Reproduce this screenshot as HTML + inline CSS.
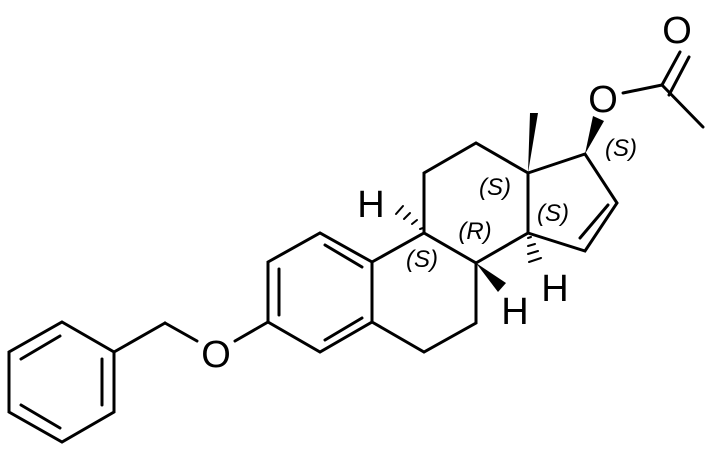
<!DOCTYPE html>
<html><head><style>body{margin:0;background:#fff}svg{display:block}
.a{font-family:"Liberation Sans",Arial,sans-serif;font-size:38px;text-anchor:middle}
.s{font-family:"Liberation Sans",Arial,sans-serif;font-size:24px;font-style:italic;text-anchor:middle}
</style></head><body>
<svg width="713" height="452" viewBox="0 0 713 452" xmlns="http://www.w3.org/2000/svg">
<g stroke="#000" stroke-width="3" fill="none" stroke-linecap="round">
<polygon points="62,322 114,352 114,412 62,442 9,412 9,352"/>
<line x1="102" y1="359" x2="102" y2="405"/>
<line x1="21" y1="359" x2="60" y2="336"/>
<line x1="21" y1="405" x2="60" y2="428"/>
<line x1="114" y1="352" x2="165" y2="323"/>
<line x1="165" y1="323" x2="197" y2="341"/>
<line x1="235" y1="341" x2="268" y2="322"/>
<polygon points="268,262 320,233 372,262 372,322 320,352 268,322"/>
<line x1="279" y1="269" x2="279" y2="315"/>
<line x1="325" y1="245" x2="362" y2="267"/>
<line x1="325" y1="340" x2="362" y2="318"/>
<polyline points="372,262 424,233 476,263 476,323 424,352 372,322"/>
<polyline points="424,233 424,173 476,143 528,173 528,233 476,263"/>
<polyline points="528,173 585,154 617,203 585,251 528,233"/>
<line x1="580" y1="238" x2="608" y2="205"/>
<line x1="623" y1="93" x2="662" y2="85"/>
<line x1="662" y1="85" x2="703" y2="127"/>
<line x1="662" y1="85" x2="680" y2="52"/>
<line x1="669" y1="95" x2="689" y2="57"/>
<line x1="420" y1="229" x2="423" y2="228" stroke-width="2"/>
<line x1="412" y1="224" x2="417" y2="220" stroke-width="2"/>
<line x1="404" y1="219" x2="410" y2="213" stroke-width="2"/>
<line x1="396" y1="214" x2="403" y2="206" stroke-width="2"/>
<line x1="528" y1="238" x2="531" y2="237" stroke-width="2"/>
<line x1="528" y1="246" x2="535" y2="244" stroke-width="2"/>
<line x1="528" y1="254" x2="538" y2="251" stroke-width="2"/>
<line x1="529" y1="262" x2="541" y2="258" stroke-width="2"/>
</g>
<g fill="#000">
<polygon points="528,173 530,113 538,113"/>
<polygon points="585,154 593,116 604,121"/>
<polygon points="476,263 506,283 498,292"/>
</g>
<text class="a" x="216" y="367">O</text>
<text class="a" x="603" y="112">O</text>
<text class="a" x="677" y="43">O</text>
<text class="a" x="371" y="217">H</text>
<text class="a" x="515" y="324">H</text>
<text class="a" x="555" y="301">H</text>
<text class="s" x="495" y="195">(S)</text>
<text class="s" x="553" y="221">(S)</text>
<text class="s" x="475" y="239">(R)</text>
<text class="s" x="422" y="267">(S)</text>
<text class="s" x="621" y="156">(S)</text>
</svg>
</body></html>
